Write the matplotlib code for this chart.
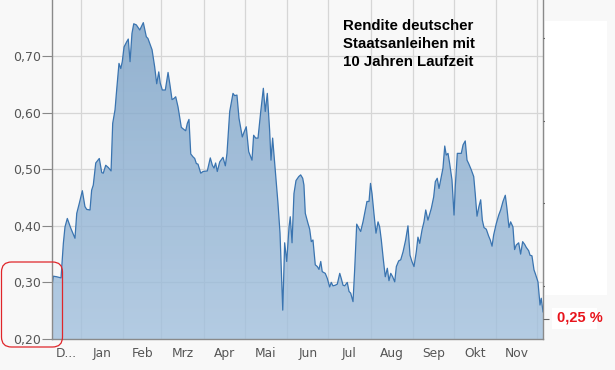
import numpy as np
import pandas as pd
import matplotlib
matplotlib.use("Agg")
import matplotlib.pyplot as plt
from matplotlib.patches import Polygon, Rectangle, FancyBboxPatch
from matplotlib.transforms import IdentityTransform
from matplotlib.ticker import FuncFormatter

# days since 2017-12-11, yield in percent
days = [0.0, 1.0, 3.4, 6.6, 8.3, 9.5, 11.2, 13.7, 16.8, 18.1, 20.0, 22.2, 24.1, 25.4, 27.8,
        29.0, 30.2, 32.0, 34.6, 36.4, 37.5, 39.3, 41.2, 43.2, 44.4, 46.1, 47.3, 49.0, 50.3,
        51.4, 52.7, 54.6, 55.8, 57.1, 58.5, 59.8, 61.7, 64.2, 66.8, 69.0, 70.2, 73.2, 75.1,
        76.6, 78.1, 79.2, 80.7, 82.9, 84.9, 86.3, 87.8, 89.2, 90.5, 92.2, 94.6, 96.6, 97.8,
        99.0, 100.2, 101.5, 103.1, 104.4, 105.6, 106.8, 108.8, 110.5, 113.6, 115.8, 117.3,
        118.5, 119.7, 120.9, 122.7, 125.1, 126.8, 128.0, 130.0, 132.4, 133.6, 135.3, 136.8,
        139.2, 140.4, 142.1, 143.9, 146.3, 147.5, 149.0, 150.7, 152.7, 154.6, 156.0, 157.5,
        159.2, 160.2, 161.4, 164.1, 165.3, 166.8, 168.8, 170.2, 171.7, 173.4, 174.3, 175.6,
        177.0, 178.5, 180.5, 181.9, 183.4, 184.3, 185.3, 187.3, 188.5, 189.7, 190.9, 192.6,
        194.1, 195.3, 196.6, 197.7, 199.9, 201.4, 203.1, 204.3, 205.5, 207.2, 208.7, 210.5,
        211.6, 212.9, 214.1, 216.0, 217.3, 218.5, 220.2, 221.4, 222.9, 224.4, 225.8, 227.5,
        229.2, 230.4, 231.9, 233.0, 234.1, 235.5, 237.0, 238.5, 239.7, 240.9, 242.4, 243.8,
        245.3, 246.5, 247.8, 249.2, 250.7, 251.9, 253.6, 255.1, 256.8, 258.7, 260.4, 261.9,
        263.3, 264.8, 266.5, 267.7, 269.0, 270.7, 272.1, 273.4, 275.0, 277.5, 279.2, 280.4,
        281.8, 283.1, 284.8, 286.0, 287.3, 288.4, 289.7, 290.9, 292.6, 294.1, 295.0, 296.5,
        299.4, 300.7, 302.3, 303.6, 304.8, 306.7, 308.5, 309.6, 310.9, 312.3, 313.6, 314.8,
        316.0, 317.7, 319.4, 320.6, 321.9, 323.1, 325.0, 326.8, 328.2, 329.9, 331.6, 332.8,
        334.3, 335.5, 337.2, 338.4, 339.6, 341.4, 342.8, 344.3, 345.8, 346.9, 348.7, 349.7,
        351.1, 352.6, 353.5, 355.5, 357.0, 357.9, 359.2]
yields = [0.294, 0.311, 0.310, 0.308, 0.369, 0.398, 0.413, 0.396, 0.378, 0.422, 0.440, 0.462,
          0.434, 0.429, 0.428, 0.463, 0.472, 0.511, 0.519, 0.494, 0.493, 0.507, 0.503, 0.497,
          0.581, 0.605, 0.640, 0.687, 0.678, 0.690, 0.716, 0.725, 0.730, 0.690, 0.740, 0.757,
          0.755, 0.746, 0.759, 0.734, 0.731, 0.711, 0.681, 0.651, 0.672, 0.652, 0.640, 0.640,
          0.671, 0.649, 0.623, 0.625, 0.628, 0.610, 0.574, 0.570, 0.568, 0.581, 0.588, 0.527,
          0.522, 0.519, 0.510, 0.509, 0.493, 0.496, 0.497, 0.520, 0.507, 0.502, 0.511, 0.496,
          0.513, 0.521, 0.506, 0.528, 0.602, 0.634, 0.630, 0.631, 0.590, 0.557, 0.565, 0.575,
          0.531, 0.516, 0.560, 0.555, 0.555, 0.602, 0.643, 0.602, 0.634, 0.569, 0.516, 0.555,
          0.475, 0.440, 0.387, 0.251, 0.370, 0.337, 0.398, 0.416, 0.370, 0.457, 0.480, 0.487,
          0.490, 0.484, 0.472, 0.422, 0.404, 0.394, 0.372, 0.375, 0.331, 0.328, 0.323, 0.337,
          0.319, 0.316, 0.307, 0.292, 0.300, 0.294, 0.295, 0.297, 0.316, 0.307, 0.295, 0.294,
          0.300, 0.284, 0.281, 0.266, 0.322, 0.403, 0.396, 0.390, 0.407, 0.428, 0.443, 0.443,
          0.475, 0.457, 0.422, 0.387, 0.407, 0.398, 0.375, 0.340, 0.310, 0.325, 0.303, 0.316,
          0.310, 0.301, 0.328, 0.338, 0.340, 0.354, 0.375, 0.400, 0.348, 0.337, 0.328, 0.354,
          0.380, 0.369, 0.393, 0.407, 0.428, 0.410, 0.431, 0.451, 0.478, 0.484, 0.466, 0.487,
          0.502, 0.541, 0.525, 0.528, 0.510, 0.481, 0.419, 0.469, 0.528, 0.528, 0.543, 0.550,
          0.516, 0.510, 0.499, 0.487, 0.457, 0.417, 0.434, 0.446, 0.410, 0.397, 0.394, 0.382,
          0.375, 0.364, 0.384, 0.404, 0.419, 0.428, 0.443, 0.454, 0.431, 0.397, 0.407, 0.398,
          0.358, 0.366, 0.370, 0.350, 0.372, 0.367, 0.362, 0.356, 0.348, 0.347, 0.322, 0.316,
          0.301, 0.260, 0.272, 0.248]

month_names = ["D...", "Jan", "Feb", "Mrz", "Apr", "Mai", "Jun", "Jul", "Aug", "Sep", "Okt", "Nov"]
y_ticks = [0.20, 0.30, 0.40, 0.50, 0.60, 0.70]
title_lines = ["Rendite deutscher", "Staatsanleihen mit", "10 Jahren Laufzeit"]
last_label = "0,25 %"

start = pd.Timestamp("2017-12-11")
month_starts = list((pd.date_range("2018-01-01", "2018-12-01", freq="MS") - start).days)
bounds = np.array([0] + month_starts, dtype=float)
label_pos = (bounds[:-1] + bounds[1:]) / 2

W, H = 615, 370
bg = "#f8f8f8"
fig = plt.figure(figsize=(W / 100, H / 100), dpi=100, facecolor=bg)
ax = fig.add_axes([52 / W, 1 - 339 / H, (543.3 - 52) / W, 339 / H], facecolor=bg)

x = np.array(days)
y = np.array(yields)
x0, x1 = 0, 359.4
y0, y1 = 0.20, 0.799

# gradient area under the line
verts = np.column_stack([np.r_[x[0], x, x[-1]], np.r_[y0, y, y0]])
clip = Polygon(verts, closed=True, facecolor="none", edgecolor="none")
ax.add_patch(clip)
top_c = np.array([122, 161, 198]) / 255
bot_c = np.array([163, 193, 222]) / 255
t = np.linspace(0, 1, 256)[:, None]
grad = (bot_c * (1 - t) + top_c * t)[:, None, :]
im = ax.imshow(grad, extent=[x0, x1, y0, 0.76], aspect="auto", origin="lower",
               alpha=0.8, zorder=1.5, interpolation="bilinear")
im.set_clip_path(clip)
ax.plot(x, y, color="#3a74b0", lw=0.9, zorder=2)

ax.set_xlim(x0, x1)
ax.set_ylim(y0, y1)

ax.set_yticks(y_ticks)
ax.yaxis.set_major_formatter(FuncFormatter(lambda v, p: f"{v:.2f}".replace(".", ",")))
ax.set_xticks(label_pos)
ax.set_xticklabels(month_names)
ax.set_xticks(month_starts, minor=True)
ax.tick_params(axis="x", which="both", length=0, pad=6, labelsize=8.8, colors="#555555")
ax.tick_params(axis="y", length=7, width=0.8, pad=1, labelsize=9, colors="#888888",
               labelcolor="#555555")
ax.grid(True, which="minor", axis="x", color="#d6d6d6", lw=0.9)
ax.grid(True, which="major", axis="y", color="#d6d6d6", lw=0.9)
ax.grid(False, which="major", axis="x")
ax.set_axisbelow(True)
for s in ["left", "bottom", "right"]:
    ax.spines[s].set_color("#8a8a8a")
    ax.spines[s].set_linewidth(1)
ax.spines["top"].set_visible(False)

# right hand tick marks
ax2 = ax.twinx()
ax2.set_ylim(0, 1)
ax2.set_yticks([0.888, 0.643, 0.401, 0.156, 0.059])
ax2.set_yticklabels([])
ax2.tick_params(axis="y", length=4, width=0.8, colors="#666666")
for s in ax2.spines.values():
    s.set_visible(False)

# white panel on the right and the last value label
fig.patches.append(Rectangle((545, H - 295), 62, 274, transform=IdentityTransform(),
                             facecolor="white", edgecolor="none", zorder=0))
fig.patches.append(Rectangle((551.7, H - 329), 45.6, 21, transform=IdentityTransform(),
                             facecolor="white", edgecolor="none", zorder=0))
fig.text(557 / W, 1 - 322 / H, last_label, color="#e8141c", fontsize=10.5,
         fontweight="bold", family="Liberation Sans", va="baseline", ha="left")

# red rounded marker box at lower left
fig.patches.append(FancyBboxPatch((1.5, H - 347), 61, 85, transform=IdentityTransform(),
                                  boxstyle="round,pad=0,rounding_size=10",
                                  facecolor="none", edgecolor="#e0262a", lw=0.9, zorder=5))

for i, line in enumerate(title_lines):
    fig.text(343 / W, 1 - (29.5 + 18.4 * i) / H, line, fontsize=10.8, fontweight="bold",
             family="Liberation Sans", color="black", va="baseline", ha="left")

fig.savefig("out.png", dpi=100, facecolor=bg)
